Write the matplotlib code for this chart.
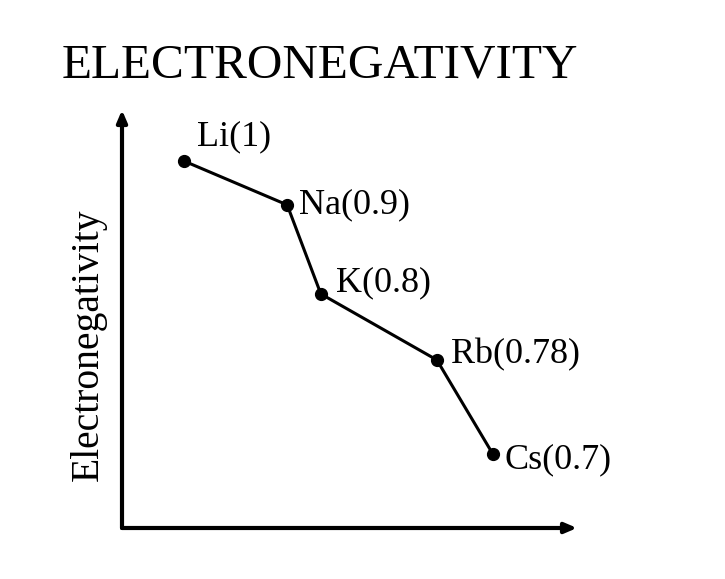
import matplotlib
matplotlib.use('Agg')
import matplotlib.pyplot as plt

# schematic chart: positions (arbitrary 0-10 units)
elements = ['Li', 'Na', 'K', 'Rb', 'Cs']
electroneg = ['1', '0.9', '0.8', '0.78', '0.7']
x_pos = [1.36, 3.63, 4.37, 6.92, 8.15]
y_pos = [8.78, 7.73, 5.60, 4.02, 1.77]

# label offsets in pixels (dx, dy)
label_offsets = [(13, 24), (12, 0), (15, 11), (14, 5), (12, -6)]

plt.rcParams['font.family'] = ['Liberation Serif', 'DejaVu Serif']

fig = plt.figure(figsize=(7.25, 5.79), dpi=100)
ax = fig.add_axes([122 / 725, 51 / 579, 455 / 725, 418 / 579])
ax.set_xlim(0, 10)
ax.set_ylim(0, 10)
for s in ax.spines.values():
    s.set_visible(False)
ax.set_xticks([])
ax.set_yticks([])

# axis arrows
arrow = dict(arrowstyle='-|>,head_length=0.7,head_width=0.3', lw=3, color='black',
             shrinkA=0, shrinkB=0)
ax.annotate('', xy=(1, 0), xytext=(0, 0), xycoords='axes fraction',
            textcoords='axes fraction', arrowprops=arrow, annotation_clip=False)
ax.annotate('', xy=(0, 1), xytext=(0, 0), xycoords='axes fraction',
            textcoords='axes fraction', arrowprops=arrow, annotation_clip=False)

ax.plot(x_pos, y_pos, color='black', lw=2.2, marker='o', markersize=8.5, clip_on=False)

for el, val, x, y, (dx, dy) in zip(elements, electroneg, x_pos, y_pos, label_offsets):
    ax.annotate(f'{el}({val})', xy=(x, y), xytext=(dx, dy), textcoords='offset pixels',
                ha='left', va='center', fontsize=26, annotation_clip=False)

fig.text(62 / 725, 1 - 66 / 579, 'ELECTRONEGATIVITY', fontsize=35.5, ha='left', va='center')
fig.text(88 / 725, 1 - 345 / 579, 'Electronegativity', fontsize=28.5, rotation=90,
         ha='center', va='center')

fig.savefig('out.png', dpi=100)
